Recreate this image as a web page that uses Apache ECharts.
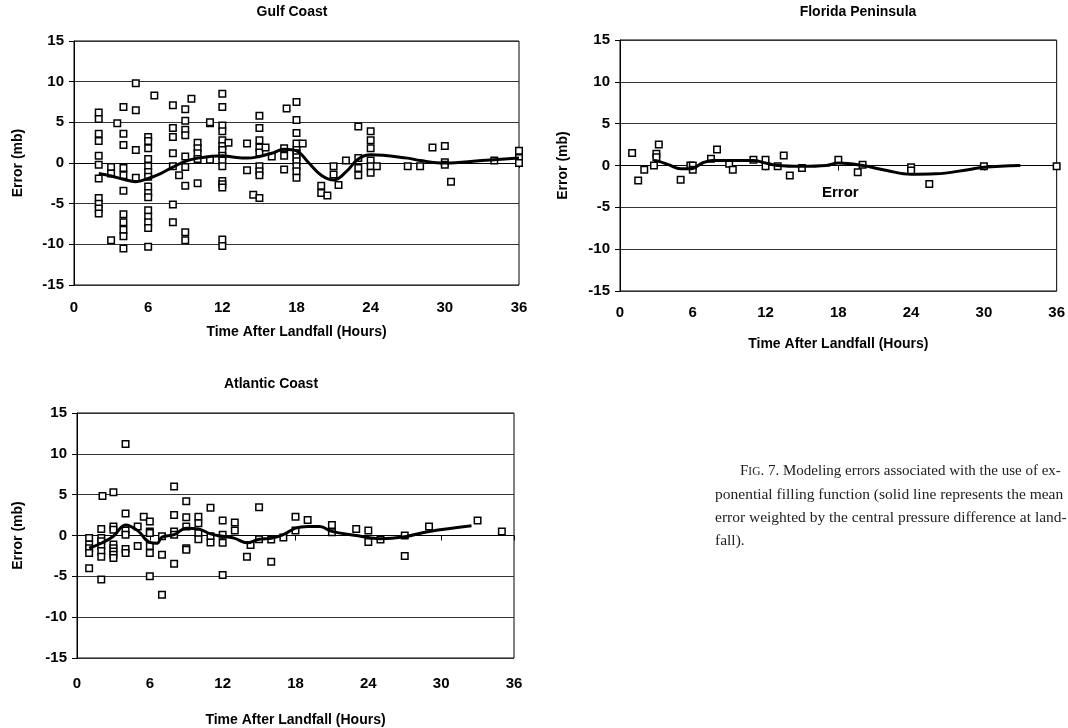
<!DOCTYPE html>
<html>
<head>
<meta charset="utf-8">
<script src="https://cdn.jsdelivr.net/npm/echarts@6/dist/echarts.min.js"></script>
<style>
html,body{margin:0;padding:0;background:#fff;}
#chart{width:1068px;height:728px;}
</style>
</head>
<body>
<div id="chart"></div>
<script>
// ---------- data ----------
var panelTitles = ['Gulf Coast', 'Florida Peninsula', 'Atlantic Coast'];
var xAxisTitle = 'Time After Landfall (Hours)';
var yAxisTitle = 'Error (mb)';
var xTicks = [0, 6, 12, 18, 24, 30, 36];
var yTicks = [-15, -10, -5, 0, 5, 10, 15];

// Gulf Coast individual errors
var gulfHours = [2,2,2,2,2,2,2,2,2,2,2, 3,3,3, 3.5,
  4,4,4,4,4,4,4,4,4,4,4, 5,5,5,5,
  6,6,6,6,6,6,6,6,6,6,6,6,6,6,6, 6.5,
  8,8,8,8,8,8,8, 8.5, 9,9,9,9,9,9,9,9,9, 9.5,
  10,10,10,10,10, 11,11,11,
  12,12,12,12,12,12,12,12,12,12,12,12,12,12,12, 12.5, 14,14, 14.5,
  15,15,15,15,15,15,15,15,15, 15.5, 16, 17,17,17, 17.2,
  18,18,18,18,18,18,18,18,18,18,18, 18.5, 20,20, 20.5, 21,21, 21.4, 22,
  23,23,23,23, 24,24,24,24,24,24, 24.5, 27, 28, 29, 30,30,30, 30.5, 34, 36,36,36];
var gulfErrors = [6.2,5.4,3.6,2.7,0.9,-0.2,-1.9,-4.3,-5.0,-5.6,-6.2, -0.5,-1.3,-9.5, 4.9,
  6.9,3.6,2.2,-0.6,-1.5,-3.4,-6.3,-7.3,-8.2,-9.0,-10.5, 9.8,6.5,1.6,-1.8,
  3.2,2.7,1.8,0.5,-0.4,-1.1,-1.7,-2.9,-3.7,-4.2,-5.8,-6.6,-7.3,-8.0,-10.3, 8.3,
  7.1,4.3,3.2,1.2,-0.4,-5.1,-7.3, -1.5, 6.6,5.2,4.1,3.4,0.8,-0.5,-2.8,-8.5,-9.5, 7.9,
  2.5,1.8,1.2,0.5,-2.5, 0.4,4.9,5.0,
  8.5,6.9,4.6,3.9,2.8,2.1,1.6,0.9,0.3,-0.4,-2.2,-2.6,-3.0,-9.4,-10.2, 2.5, 2.4,-0.9, -3.9,
  5.8,4.3,2.8,1.9,1.3,-0.4,-1.0,-1.5,-4.3, 1.9, 0.8, 1.8,0.9,-0.8, 6.7,
  7.5,5.3,3.7,2.4,1.6,1.2,0.7,0.2,-0.4,-1.0,-1.8, 2.4, -2.8,-3.7, -4.0, -0.4,-1.4, -2.7, 0.3,
  4.5,0.6,-0.6,-1.5, 3.9,2.8,1.8,0.3,-0.4,-1.2, -0.4, -0.4, -0.4, 1.9, 2.1,0.1,-0.2, -2.3, 0.3, 1.5,0.6,0.0];
// Gulf Coast weighted mean error
var gulfMeanHours = [2,3,4,5,6,7,8,9,10,11,12,13,14,15,16,17,18,19,20,21,22,23,24,27,28,30,33,36];
var gulfMeanErrors = [-1.3,-1.6,-2.0,-2.3,-1.9,-1.3,-0.5,0.2,0.6,0.8,0.9,0.7,0.6,0.8,1.2,1.7,1.5,0.0,-1.5,-2.1,-1.1,0.5,1.0,0.6,0.3,0.0,0.3,0.6];

// Florida Peninsula individual errors
var flHours = [1,1.5,2,2.8,3,3,3.2,5,5.8,6,6,7.5,8,9,9.3,11,12,12,13,13.5,14,15,18,19.6,20,24,24,25.5,30,36];
var flErrors = [1.5,-1.8,-0.5,0,1.4,1.0,2.5,-1.7,0,0,-0.5,0.8,1.9,0.2,-0.5,0.7,0.7,-0.1,-0.1,1.2,-1.2,-0.3,0.7,-0.8,0.1,-0.2,-0.6,-2.2,-0.1,-0.1];
// Florida Peninsula weighted mean error
var flMeanHours = [2.8,3.2,4,5,5.8,6.8,7.6,9,11,12,13,15,17,18,20,22,24,26,28.7,30,33];
var flMeanErrors = [0.6,0.5,0.1,-0.4,-0.4,0.3,0.6,0.6,0.6,0.3,0,-0.1,0,0.3,0,-0.6,-1.05,-1.0,-0.5,-0.2,0];

// Atlantic Coast individual errors
var atlHours = [1,1,1,1,1, 2.1,2,2,2,2,2,2,2, 3,3,3,3,3,3,3,3, 4,4,4,4,4,4, 5,5, 5.5,
  6,6,6,6,6,6, 7,7,7, 8,8,8,8,8, 9,9,9,9,9, 10,10,10,10, 11,11,11,
  12,12,12,12, 13,13, 14, 14.3, 15,15, 16,16, 17, 18,18, 19, 21,21, 23, 24,24, 25, 27,27, 29, 33, 35];
var atlErrors = [-0.3,-1.1,-1.55,-2.15,-4.0, 4.85,0.8,-0.3,-0.7,-1.3,-1.9,-2.6,-5.4, 5.3,1.1,0.7,-1.1,-1.55,-1.95,-2.35,-2.75, 11.2,2.7,0.6,0.1,-1.65,-2.15, 1.1,-1.3, 2.3,
  1.7,0.5,0.3,-1.3,-2.15,-5.0, -0.1,-2.35,-7.25, 6.0,2.5,0.5,0.1,-3.45, 4.2,2.25,1.1,-1.55,-1.75, 2.3,1.5,0.3,-0.45, 3.4,-0.1,-0.85,
  1.85,0.1,-0.9,-4.85, 1.6,0.6, -2.6, -1.15, 3.45,-0.45, -0.5,-3.2, -0.25, 2.3,0.6, 1.9, 1.3,0.4, 0.8, 0.6,-0.8, -0.5, 0.0,-2.5, 1.1, 1.85, 0.5];
// Atlantic Coast weighted mean error
var atlMeanHours = [1,2,3,4,5,6,6.6,7,8,9,10,11,12,13,14,15,16,17,18,19,20,21,23,24,25,27,29,32.5];
var atlMeanErrors = [-1.55,-0.95,-0.1,1.3,0.6,-0.85,-0.95,-0.2,0.1,0.9,0.8,0.2,-0.1,-0.35,-0.9,-0.45,-0.35,0.1,0.9,1.1,1.1,0.5,0.0,-0.25,-0.4,-0.15,0.5,1.2];

var inlineLabel = 'Error';
var captionLines = [
  'Modeling errors associated with the use of ex-',
  'ponential filling function (solid line represents the mean',
  'error weighted by the central pressure difference at land-',
  'fall).'
];

// ---------- helpers ----------
function zip(a, b) { return a.map(function (v, i) { return [v, b[i]]; }); }
var FONT = '"Liberation Sans", Arial, sans-serif';
var SERIF = '"Liberation Serif", "Times New Roman", serif';

var grids = [
  {left: 74, top: 41, width: 445, height: 244},
  {left: 620, top: 40, width: 437, height: 251},
  {left: 77, top: 413, width: 437, height: 246}
];
var xNameGaps = [40, 46, 55];
var yNameGaps = [49, 50, 52];
var xLabelMargins = [15, 14, 18];

function xAxisFor(i) {
  return {
    gridIndex: i, type: 'value', min: xTicks[0], max: xTicks[xTicks.length - 1], interval: 6,
    name: xAxisTitle, nameLocation: 'middle', nameGap: xNameGaps[i],
    nameTextStyle: {fontFamily: FONT, fontWeight: 'bold', fontSize: 14, color: '#000'},
    axisLine: {show: true, lineStyle: {color: '#000', width: 1}},
    axisTick: {show: true, inside: false, length: 5, lineStyle: {color: '#000'}},
    axisLabel: {fontFamily: FONT, fontWeight: 'bold', fontSize: 15, color: '#000', margin: xLabelMargins[i]},
    splitLine: {show: false}
  };
}
function yAxisFor(i) {
  return {
    gridIndex: i, type: 'value', min: yTicks[0], max: yTicks[yTicks.length - 1], interval: 5,
    name: yAxisTitle, nameLocation: 'middle', nameGap: yNameGaps[i], nameRotate: 90,
    nameTextStyle: {fontFamily: FONT, fontWeight: 'bold', fontSize: 14, color: '#000'},
    axisLine: {show: true, lineStyle: {color: '#000', width: 1}},
    axisTick: {show: true, inside: false, length: 5, lineStyle: {color: '#000'}},
    axisLabel: {fontFamily: FONT, fontWeight: 'bold', fontSize: 15, color: '#000', margin: 10},
    splitLine: {show: true, lineStyle: {color: '#333', width: 1}}
  };
}
function scatterFor(i, hrs, errs) {
  return {
    type: 'scatter', xAxisIndex: i, yAxisIndex: i, data: zip(hrs, errs),
    symbol: 'rect', symbolSize: 6.5,
    itemStyle: {color: '#fff', borderColor: '#000', borderWidth: 1.5, opacity: 1},
    z: 3, silent: true
  };
}
function lineFor(i, hrs, errs) {
  return {
    type: 'line', xAxisIndex: i, yAxisIndex: i, data: zip(hrs, errs),
    smooth: 0.4, showSymbol: false, symbol: 'none',
    lineStyle: {color: '#000', width: 3}, z: 4, silent: true
  };
}

var chart = echarts.init(document.getElementById('chart'), null, {renderer: 'canvas'});
var option = {
  backgroundColor: '#fff',
  animation: false,
  title: [
    {text: panelTitles[0], left: 287, top: 0, textAlign: 'center', textStyle: {fontFamily: FONT, fontWeight: 'bold', fontSize: 14, color: '#000'}},
    {text: panelTitles[1], left: 853, top: 0, textAlign: 'center', textStyle: {fontFamily: FONT, fontWeight: 'bold', fontSize: 14, color: '#000'}},
    {text: panelTitles[2], left: 266, top: 372, textAlign: 'center', textStyle: {fontFamily: FONT, fontWeight: 'bold', fontSize: 14, color: '#000'}}
  ],
  grid: grids.map(function (g) {
    return {left: g.left, top: g.top, width: g.width, height: g.height, show: true,
      borderColor: '#000', borderWidth: 1, backgroundColor: 'transparent', containLabel: false};
  }),
  xAxis: [xAxisFor(0), xAxisFor(1), xAxisFor(2)],
  yAxis: [yAxisFor(0), yAxisFor(1), yAxisFor(2)],
  series: [
    scatterFor(0, gulfHours, gulfErrors), lineFor(0, gulfMeanHours, gulfMeanErrors),
    scatterFor(1, flHours, flErrors), lineFor(1, flMeanHours, flMeanErrors),
    scatterFor(2, atlHours, atlErrors), lineFor(2, atlMeanHours, atlMeanErrors)
  ],
  graphic: [
    {type: 'text', left: 822, top: 185, style: {text: inlineLabel, font: 'bold 15px ' + FONT, fill: '#000'}},
    {type: 'text', left: 740, top: 464, style: {
      text: '{a|F}{b|IG}{a|. 7. ' + captionLines[0] + '}',
      rich: {a: {fontFamily: SERIF, fontSize: 15, fill: '#222'}, b: {fontFamily: SERIF, fontSize: 11.5, fill: '#222'}}
    }},
    {type: 'text', left: 715, top: 487, style: {text: captionLines[1], font: '15.5px ' + SERIF, fill: '#222'}},
    {type: 'text', left: 715, top: 510, style: {text: captionLines[2], font: '15.5px ' + SERIF, fill: '#222'}},
    {type: 'text', left: 715, top: 533, style: {text: captionLines[3], font: '15.5px ' + SERIF, fill: '#222'}}
  ]
};
chart.setOption(option);
</script>
</body>
</html>
